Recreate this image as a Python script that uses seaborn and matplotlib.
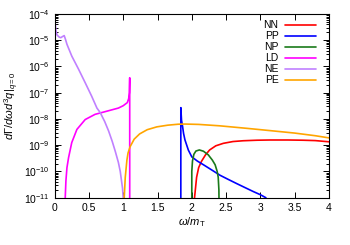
import numpy as np
import pandas as pd
import matplotlib
matplotlib.use("Agg")
import matplotlib.pyplot as plt
import seaborn as sns

# values (x = omega/m_T, y = rate)
ne_x = [0.0, 0.01, 0.02, 0.035, 0.05, 0.07, 0.09, 0.11, 0.14, 0.16, 0.18, 0.25, 0.35, 0.446, 0.54, 0.617, 0.665, 0.73, 0.787, 0.84, 0.884, 0.93, 0.957, 0.99, 1.0]
ne_y = [9e-5, 4e-5, 2.3e-5, 1.6e-5, 1.45e-5, 1.3e-5, 1.25e-5, 1.35e-5, 1.5e-5, 1.05e-5, 7e-6, 2.5e-6, 7.8e-7, 2.4e-7, 7.4e-8, 2.6e-8, 1.75e-8, 8e-9, 3.5e-9, 1.4e-9, 5.9e-10, 2.2e-10, 1.0e-10, 2.3e-11, 1e-11]

ld_x = [0.146, 0.155, 0.165, 0.18, 0.204, 0.25, 0.325, 0.446, 0.59, 0.737, 0.93, 1.0, 1.06, 1.08, 1.09, 1.095, 1.095]
ld_y = [1e-12, 1e-11, 4.4e-11, 1.4e-10, 3.4e-10, 1.26e-9, 4e-9, 9.5e-9, 1.5e-8, 1.9e-8, 2.6e-8, 3.2e-8, 4.2e-8, 6e-8, 1e-7, 3.7e-7, 1e-12]

pe_x = [1.005, 1.015, 1.03, 1.054, 1.07, 1.1, 1.16, 1.24, 1.35, 1.49, 1.65, 1.8, 1.9, 2.1, 2.4, 2.8, 3.14, 3.5, 3.8, 4.0]
pe_y = [1e-12, 1e-11, 6e-11, 2.7e-10, 5e-10, 8.7e-10, 1.7e-9, 2.7e-9, 3.9e-9, 5.0e-9, 5.8e-9, 6.3e-9, 6.4e-9, 6.2e-9, 5.5e-9, 4.4e-9, 3.6e-9, 2.9e-9, 2.3e-9, 1.9e-9]

pp_x = [1.84, 1.84, 1.85, 1.866, 1.88, 1.9, 1.95, 2.0, 2.08, 2.17, 2.3, 2.41, 2.53, 2.65, 2.78, 2.9, 3.0, 3.08]
pp_y = [1e-12, 2.7e-8, 9e-9, 5.1e-9, 2.8e-9, 1.6e-9, 6.5e-10, 3.6e-10, 2.5e-10, 1.8e-10, 1.1e-10, 7.2e-11, 5e-11, 3.5e-11, 2.4e-11, 1.7e-11, 1.3e-11, 1e-11]

np_x = [2.0, 2.0, 2.01, 2.03, 2.06, 2.11, 2.17, 2.24, 2.3, 2.34, 2.37, 2.385, 2.395, 2.4]
np_y = [1e-12, 1e-10, 2.5e-10, 4.5e-10, 6.0e-10, 6.6e-10, 5.9e-10, 4.3e-10, 2.7e-10, 1.8e-10, 1.0e-10, 6e-11, 2e-11, 1e-12]

nn_x = [2.03, 2.04, 2.07, 2.1, 2.14, 2.2, 2.26, 2.35, 2.46, 2.6, 2.75, 2.95, 3.14, 3.4, 3.62, 3.8, 4.0]
nn_y = [1e-12, 1e-11, 6e-11, 1.4e-10, 2.4e-10, 4.3e-10, 6.6e-10, 9.5e-10, 1.18e-9, 1.38e-9, 1.48e-9, 1.55e-9, 1.58e-9, 1.58e-9, 1.55e-9, 1.5e-9, 1.35e-9]

channels = ["NN", "PP", "NP", "LD", "NE", "PE"]
colours = {"NN": "#ff0000", "PP": "#0000ff", "NP": "#1a7a1a",
           "LD": "#ff00ff", "NE": "#c080ff", "PE": "#ffa500"}
series = {"NN": (nn_x, nn_y), "PP": (pp_x, pp_y), "NP": (np_x, np_y),
          "LD": (ld_x, ld_y), "NE": (ne_x, ne_y), "PE": (pe_x, pe_y)}

rows = []
for ch in channels:
    xs, ys = series[ch]
    for a, b in zip(xs, ys):
        rows.append({"omega": a, "rate": b, "channel": ch})
df = pd.DataFrame(rows)

sns.set_style("ticks")
plt.rcParams["font.family"] = ["Liberation Sans", "DejaVu Sans"]
plt.rcParams["mathtext.fontset"] = "custom"
plt.rcParams["mathtext.rm"] = "Liberation Sans"
plt.rcParams["mathtext.it"] = "Liberation Sans:italic"
plt.rcParams["text.color"] = "black"
plt.rcParams["axes.labelcolor"] = "black"
plt.rcParams["xtick.color"] = "black"
plt.rcParams["ytick.color"] = "black"
plt.rcParams["axes.edgecolor"] = "black"

fig = plt.figure(figsize=(3.5, 2.45), dpi=100)
ax = fig.add_axes([0.156, 0.193, 0.784, 0.75])

for ch in channels:
    sub = df[df["channel"] == ch]
    sns.lineplot(data=sub, x="omega", y="rate", color=colours[ch], sort=False,
                 estimator=None, lw=1.2, ax=ax, label=ch)

ax.set_yscale("log")
ax.set_xlim(0, 4)
ax.set_ylim(1e-11, 1e-4)
ax.set_xticks(np.arange(0, 4.01, 0.5))
ax.set_xticklabels(["0", "0.5", "1", "1.5", "2", "2.5", "3", "3.5", "4"])
ax.yaxis.set_major_locator(matplotlib.ticker.LogLocator(base=10, numticks=12))
ax.yaxis.set_minor_locator(matplotlib.ticker.LogLocator(base=10, subs=np.arange(2, 10), numticks=12))
ax.yaxis.set_minor_formatter(matplotlib.ticker.NullFormatter())
ax.tick_params(which="both", direction="in", top=True, right=True, labelsize=7.5, width=0.7)
ax.tick_params(which="major", length=4)
ax.tick_params(which="minor", length=2)
for s in ax.spines.values():
    s.set_linewidth(0.8)

ax.set_xlabel(r"$\omega/m_\mathrm{T}$", fontsize=8, labelpad=2)
ax.set_ylabel(r"$d\Gamma/d\omega d^3q|_{q=0}$", fontsize=8, labelpad=2)

ax.legend(loc="upper right", frameon=False, markerfirst=False, fontsize=7.5,
          handlelength=3.0, handletextpad=0.6, labelspacing=0.1,
          borderaxespad=0.2, bbox_to_anchor=(0.975, 1.0))

fig.savefig("out.png", dpi=100)
